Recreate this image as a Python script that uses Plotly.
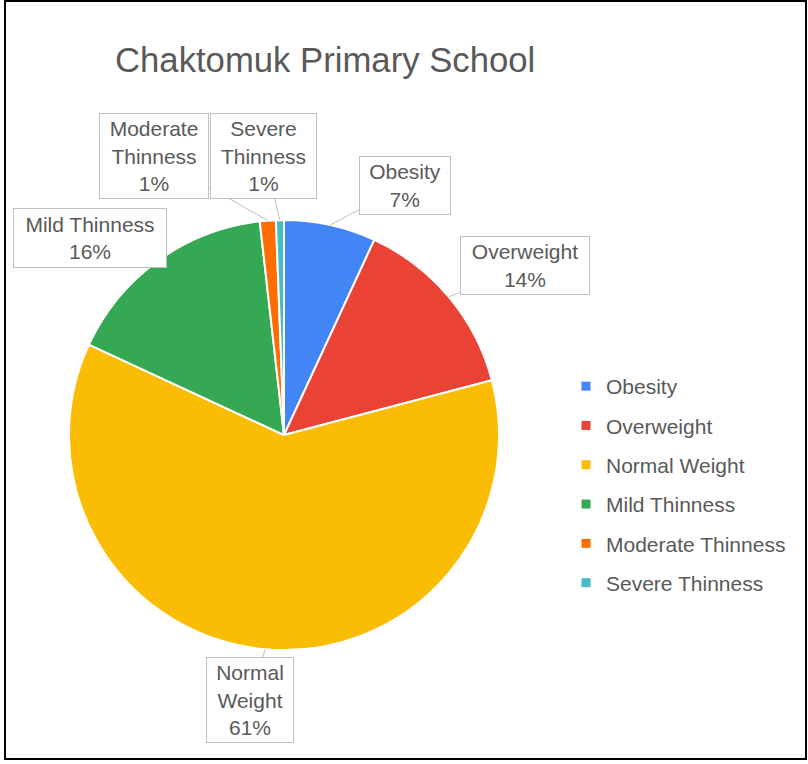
import math
import plotly.graph_objects as go

# ---- data ----
categories = ["Obesity", "Overweight", "Normal Weight", "Mild Thinness",
              "Moderate Thinness", "Severe Thinness"]
values = [6.9, 14.0, 61.0, 16.3, 1.2, 0.6]
colors = ["#4285F4", "#EA4335", "#FBBC04", "#34A853", "#FF6D01", "#46BDC6"]
title_text = "Chaktomuk Primary School"

W, H = 808, 764
TXT = "#595959"
FONT = "Liberation Sans, Arial, sans-serif"

# pie geometry (pixels)
CX, CY, R = 284, 435, 215

fig = go.Figure()
fig.add_trace(go.Pie(
    labels=categories, values=values, sort=False, direction="clockwise",
    rotation=0, textinfo="none", hoverinfo="label+percent",
    marker=dict(colors=colors, line=dict(color="white", width=2)),
    domain=dict(x=[(CX - R) / W, (CX + R) / W], y=[1 - (CY + R) / H, 1 - (CY - R) / H]),
    showlegend=False,
))

# legend entries via dummy traces (for spacing control)
for i, (c, col) in enumerate(zip(categories, colors)):
    fig.add_trace(go.Scatter(
        x=[None], y=[None], mode="markers", name=c, legendgroup=c,
        marker=dict(symbol="square", size=9, color=col), showlegend=True,
    ))

# label callouts
offsets = {  # pixel offset of box centre from slice-edge point
    "Obesity": (75, -40, True, 92, 59),
    "Overweight": (76, -31, True, 130, 59),
    "Normal Weight": (-15, 51, True, 88, 86),
    "Mild Thinness": (-68, -23, False, 154, 60),
    "Moderate Thinness": (-114, -65, True, 110, 86),
    "Severe Thinness": (-16, -64, True, 107, 86),
}
total = sum(values)
cum = 0.0
annotations = []
for c, v in zip(categories, values):
    mid = (cum + v / 2) / total * 2 * math.pi
    cum += v
    tx = CX + R * math.sin(mid)
    ty = CY - R * math.cos(mid)
    dx, dy, arrow, bw, bh = offsets[c]
    name = c if c == "Mild Thinness" else c.replace(" ", "<br>")
    text = f"{name}<br>{round(v / total * 100)}%"
    pad = 2
    ann = dict(
        text=text, xref="paper", yref="paper",
        font=dict(family=FONT, size=21, color=TXT),
        bordercolor="#BFBFBF", borderwidth=1, borderpad=pad, bgcolor="white",
        width=bw - 2 * pad - 2, height=bh - 2 * pad - 2, align="center",
    )
    if arrow:
        ann.update(x=tx / W, y=1 - ty / H, showarrow=True, ax=dx, ay=dy,
                   arrowhead=0, arrowwidth=1, arrowcolor="#BFBFBF", standoff=0)
    else:
        ann.update(x=(tx + dx) / W, y=1 - (ty + dy) / H, showarrow=False,
                   xanchor="center", yanchor="middle")
    annotations.append(ann)

annotations.append(dict(
    text=title_text, xref="paper", yref="paper", x=113 / W, y=1 - 60 / H,
    xanchor="left", yanchor="middle", showarrow=False,
    font=dict(family=FONT, size=34.7, color=TXT),
))

fig.update_layout(
    width=W, height=H, margin=dict(l=0, r=0, t=0, b=0),
    paper_bgcolor="white", plot_bgcolor="white",
    xaxis=dict(visible=False), yaxis=dict(visible=False),
    annotations=annotations,
    legend=dict(x=566 / W, y=1 - 366 / H, xanchor="left", yanchor="top",
                font=dict(family=FONT, size=21, color=TXT),
                tracegroupgap=9, itemwidth=30, bgcolor="rgba(0,0,0,0)"),
    shapes=[dict(type="rect", xref="paper", yref="paper",
                 x0=5 / W, x1=806 / W, y0=1 - 759 / H, y1=1 - 1 / H,
                 line=dict(color="black", width=2))],
)

fig.write_html("out.html", config={"displayModeBar": False},
               post_script="document.body.style.margin='0';document.body.style.overflow='hidden';")
